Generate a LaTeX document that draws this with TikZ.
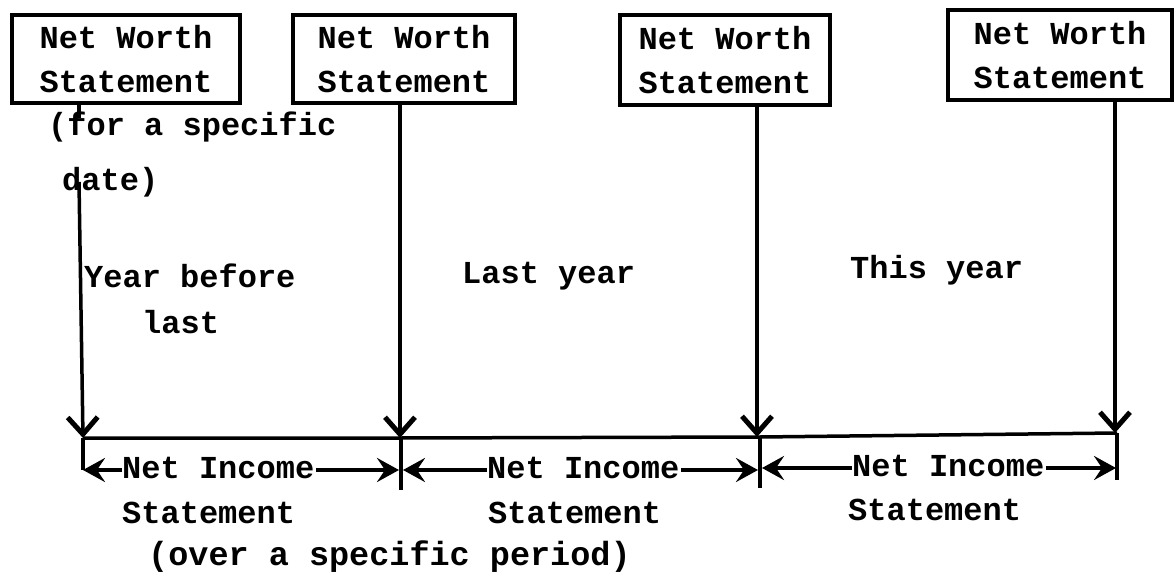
\documentclass[tikz,border=0pt]{standalone}
\usepackage{fontspec}
\setmonofont{Liberation Mono}
\usetikzlibrary{arrows.meta}
\begin{document}
\begin{tikzpicture}[x=1pt,y=-1pt,
  every node/.style={font=\ttfamily\bfseries\fontsize{32}{44}\selectfont},
  nw/.style={draw,line width=3.5pt,align=center,inner sep=0pt},
  txt/.style={anchor=base west,inner sep=0pt},
  ln/.style={line width=3.5pt},
  varr/.style={ln,-{Straight Barb[length=17pt,width=30pt,line width=5pt]}},
  harr/.style={ln,-{Stealth[length=22pt,width=24pt,inset=8pt]}}]
\useasboundingbox (0,0) rectangle (1174,577);
% boxes
\node[nw,minimum width=228pt,minimum height=88pt] (b1) at (126,59) {Net Worth\\Statement};
\node[nw,minimum width=222pt,minimum height=88pt] (b2) at (404,59) {Net Worth\\Statement};
\node[nw,minimum width=210pt,minimum height=90pt] (b3) at (725,60) {Net Worth\\Statement};
\node[nw,minimum width=224pt,minimum height=90pt] (b4) at (1060,55) {Net Worth\\Statement};
% coordinates on the time line
\coordinate (h1) at (83,438);
\coordinate (h2) at (401,438);
\coordinate (h3) at (760,437);
\coordinate (h4) at (1117,433);
\coordinate (t1) at (83,470);
\coordinate (t2) at (401,490);
\coordinate (t3) at (760,488);
\coordinate (t4) at (1117,480);
\coordinate (v1) at (79,0);
\coordinate (v1a) at (79,118);
\coordinate (v1b) at (79,182);
\coordinate (v2) at (400,0);
\coordinate (v3) at (757,0);
\coordinate (v4) at (1115,0);
% texts
\node[txt] (ds1) at (48,136) {(for a specific};
\node[txt] (ds2) at (62,191) {date)};
\node[txt] (yb1) at (84,287) {Year before};
\node[txt] (yb2) at (142,333) {last};
\node[txt] (ly) at (462,283) {Last year};
\node[txt] (ty) at (850,278) {This year};
\node[txt] (ni1) at (122,478) {Net Income};
\node[txt] (ni2) at (487,478) {Net Income};
\node[txt] (ni3) at (852,476) {Net Income};
\node[txt] (st1) at (122,523) {Statement};
\node[txt] (st2) at (488,523) {Statement};
\node[txt] (st3) at (848,520) {Statement};
\node[txt,font=\ttfamily\bfseries\fontsize{33.5}{44}\selectfont] (per) at (148,565) {(over a specific period)};
% vertical connectors
\draw[ln] (b1.south -| v1) -- (v1a);
\draw[varr] (v1b) -- (h1);
\draw[varr] (b2.south -| v2) -- (h2 -| v2);
\draw[varr] (b3.south -| v3) -- (h3 -| v3);
\draw[varr] (b4.south -| v4) -- (h4 -| v4);
% time line
\draw[ln] (h1) -- (h2) -- (h3) -- (h4);
\draw[ln] (h1) -- (t1);
\draw[ln] (h2) -- (t2);
\draw[ln] (h3) -- (t3);
\draw[ln] (h4) -- (t4);
% net income arrows
\draw[harr] (ni1.west |- 0,470) -- (83,470);
\draw[harr] (ni1.east |- 0,470) ++(2,0) -- (399,470);
\draw[harr] (ni2.west |- 0,470) -- (403,470);
\draw[harr] (ni2.east |- 0,470) ++(2,0) -- (758,470);
\draw[harr] (ni3.west |- 0,468) -- (762,468);
\draw[harr] (ni3.east |- 0,468) ++(2,0) -- (1116,468);
\end{tikzpicture}
\end{document}
